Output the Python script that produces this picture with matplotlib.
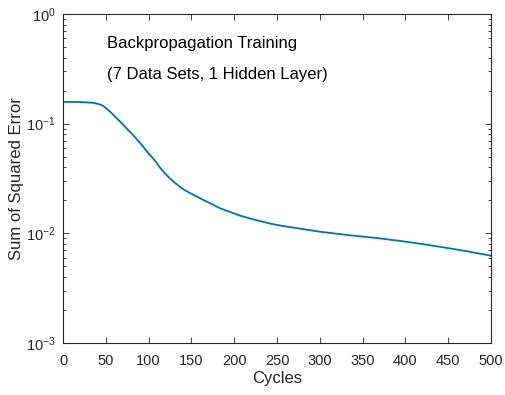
import math
import matplotlib
matplotlib.use("Agg")
import matplotlib.pyplot as plt
from matplotlib.ticker import FixedLocator, FuncFormatter, LogLocator, NullFormatter

plt.rcParams['font.family'] = ['Liberation Sans', 'DejaVu Sans']
plt.rcParams['mathtext.fontset'] = 'custom'
plt.rcParams['mathtext.rm'] = 'Liberation Sans'

cycles = [0, 20, 35, 43, 47, 50, 54, 58, 64, 70, 76, 82, 88, 93, 97, 102, 108, 113, 119,
          125, 131, 137, 142, 148, 154, 160, 166, 172, 183, 195, 207, 218, 230, 241, 253,
          288, 300, 335, 370, 405, 440, 470, 500]
sse = [0.158, 0.1575, 0.155, 0.150, 0.145, 0.139, 0.1306, 0.1222, 0.1094, 0.0984, 0.0877,
       0.0785, 0.0693, 0.0628, 0.0569, 0.0515, 0.0455, 0.0400, 0.0353, 0.0316, 0.0288,
       0.0264, 0.0248, 0.0234, 0.0221, 0.0209, 0.0198, 0.0188, 0.0170, 0.01567, 0.0145,
       0.01368, 0.01294, 0.01233, 0.0118, 0.0107, 0.01035, 0.0096, 0.0090, 0.0083,
       0.00755, 0.0069, 0.00625]

title_lines = ["Backpropagation Training", "(7 Data Sets, 1 Hidden Layer)"]
xticks = [0, 50, 100, 150, 200, 250, 300, 350, 400, 450, 500]
yticks = [1e-3, 1e-2, 1e-1, 1e0]

fig = plt.figure(figsize=(5.05, 3.95), dpi=100)
ax = fig.add_axes([63/505, 52/395, 428/505, 329/395])
ax.plot(cycles, sse, color='#0072BD', lw=1.3, solid_joinstyle='round')
ax.set_yscale('log')
ax.set_xlim(0, 500)
ax.set_ylim(1e-3, 1e0)

dark = '#262626'
ax.xaxis.set_major_locator(FixedLocator(xticks))
ax.yaxis.set_major_locator(FixedLocator(yticks))
ax.yaxis.set_minor_locator(LogLocator(base=10, subs=range(2, 10)))
ax.yaxis.set_minor_formatter(NullFormatter())

def fmt(v, pos):
    e = int(round(math.log10(v)))
    return r'$\mathregular{10^{%d}}$' % e
ax.yaxis.set_major_formatter(FuncFormatter(fmt))

ax.tick_params(which='both', direction='in', top=True, right=True, colors=dark,
               labelsize=10.5, width=0.6)
ax.tick_params(which='major', length=4)
ax.tick_params(which='minor', length=2.2)
ax.tick_params(axis='x', pad=8)
ax.tick_params(axis='y', pad=5.5)
for s in ax.spines.values():
    s.set_color(dark)
    s.set_linewidth(0.8)

ax.set_xlabel('Cycles', fontsize=12, color=dark, labelpad=2)
ax.set_ylabel('Sum of Squared Error', fontsize=12, color=dark, labelpad=1.5)

ax.text(0.103, 0.8967, title_lines[0], transform=ax.transAxes, fontsize=12,
        color='black', va='baseline', ha='left')
ax.text(0.103, 0.8024, title_lines[1], transform=ax.transAxes, fontsize=12,
        color='black', va='baseline', ha='left')

fig.savefig('out.png', dpi=100)
